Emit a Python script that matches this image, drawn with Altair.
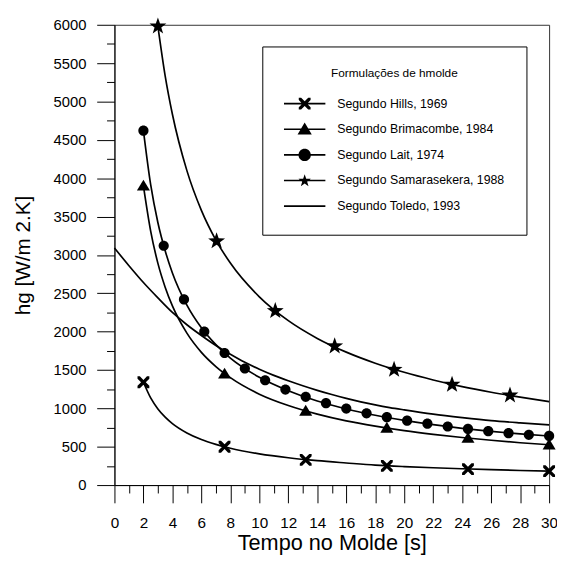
import altair as alt
import pandas as pd

FONT = "Liberation Sans"

series_names = [
    "Segundo Hills, 1969",
    "Segundo Brimacombe, 1984",
    "Segundo Lait, 1974",
    "Segundo Samarasekera, 1988",
    "Segundo Toledo, 1993",
]

# ---- curves ----
hills_t = [2, 2.5, 3, 3.5, 4, 5, 6, 7, 8, 10, 12, 14, 16, 18, 20, 22, 24, 26, 28, 30]
hills_h = [1340, 1136, 993, 886, 802, 680, 594, 531, 480, 407, 356, 318, 288, 260, 241, 226, 213, 201, 190, 181]

brim_t = [2, 2.5, 3, 3.5, 4, 5, 6, 7, 8, 10, 12, 14, 16, 18, 20, 22, 24, 26, 28, 30]
brim_h = [3900, 3310, 2890, 2580, 2335, 1980, 1730, 1545, 1400, 1185, 1037, 925, 837, 768, 709, 661, 620, 584, 552, 526]

lait_t = [2, 2.5, 3, 3.5, 4, 5, 6, 7, 8, 10, 12, 14, 16, 18, 20, 22, 24, 26, 28, 30]
lait_h = [4620, 3915, 3420, 3055, 2765, 2345, 2050, 1830, 1655, 1405, 1230, 1095, 992, 910, 843, 787, 740, 700, 667, 640]

sama_t = [3, 3.5, 4, 5, 6, 7, 8, 10, 12, 14, 16, 18, 20, 22, 24, 26, 28, 30]
sama_h = [5980, 5335, 4834, 4099, 3581, 3194, 2894, 2454, 2143, 1912, 1733, 1589, 1470, 1370, 1283, 1210, 1146, 1087]

tol_t = [0, 1, 2, 3, 4, 5, 6, 7, 8, 9, 10, 11, 12, 13, 14, 15, 16, 17, 18, 19, 20, 22, 24, 26, 28, 30]
tol_h = [3090, 2860, 2640, 2440, 2250, 2090, 1950, 1820, 1705, 1600, 1510, 1430, 1360, 1295, 1235, 1180,
         1130, 1085, 1045, 1010, 980, 925, 880, 840, 810, 784]

# ---- markers ----
hills_mt = [2, 7.6, 13.2, 18.8, 24.4, 30]
hills_mh = [1340, 500, 328, 250, 207, 181]

brim_mt = [2, 7.6, 13.2, 18.8, 24.4, 30]
brim_mh = [3900, 1450, 965, 745, 612, 526]

lait_mt = [2, 3.4, 4.8, 6.2, 7.6, 9.0, 10.4, 11.8, 13.2, 14.6, 16.0, 17.4, 18.8, 20.2, 21.6, 23.0, 24.4, 25.8, 27.2, 28.6, 30]
lait_mh = [4620, 3120, 2420, 2000, 1722, 1520, 1366, 1245, 1150, 1068, 997, 935, 885, 840, 800, 764, 732, 703, 677, 655, 641]

sama_mt = [3, 7.05, 11.1, 15.2, 19.3, 23.3, 27.3]
sama_mh = [5980, 3180, 2270, 1810, 1505, 1310, 1170]

x_values = list(range(0, 31))
y_values = list(range(0, 6001, 250))

curve_rows = []
for name, ts, hs in zip(series_names,
                        [hills_t, brim_t, lait_t, sama_t, tol_t],
                        [hills_h, brim_h, lait_h, sama_h, tol_h]):
    curve_rows += [{"serie": name, "t": t, "h": h} for t, h in zip(ts, hs)]
curves = pd.DataFrame(curve_rows)

marker_rows = []
for name, ts, hs in zip(series_names[:4],
                        [hills_mt, brim_mt, lait_mt, sama_mt],
                        [hills_mh, brim_mh, lait_mh, sama_mh]):
    marker_rows += [{"serie": name, "t": t, "h": h} for t, h in zip(ts, hs)]
markers = pd.DataFrame(marker_rows)

# symbol shapes (unit coordinates)
X_PATH = ("M-1,-1L-0.6,-1L0,-0.4L0.6,-1L1,-1L1,-0.6L0.4,0L1,0.6L1,1L0.6,1L0,0.4"
          "L-0.6,1L-1,1L-1,0.6L-0.4,0L-1,-0.6Z")
TRI_PATH = "M0,-1.05L1.1,0.8L-1.1,0.8Z"
CIRC_PATH = "M0.86,0A0.86,0.86,0,1,1,-0.86,0A0.86,0.86,0,1,1,0.86,0Z"
STAR_PATH = ("M0,-1.5L0.353,-0.485L1.427,-0.464L0.571,0.185L0.882,1.214L0,0.6"
             "L-0.882,1.214L-0.571,0.185L-1.427,-0.464L-0.353,-0.485Z")

LINE = "M-1,-0.065L2.5,-0.065L2.5,0.065L-1,0.065Z"
LEG_X = ("M0.25,-0.5L0.45,-0.5L0.75,-0.2L1.05,-0.5L1.25,-0.5L1.25,-0.3L0.95,0L1.25,0.3L1.25,0.5"
         "L1.05,0.5L0.75,0.2L0.45,0.5L0.25,0.5L0.25,0.3L0.55,0L0.25,-0.3Z")
LEG_TRI = "M0.75,-0.58L1.35,0.45L0.15,0.45Z"
LEG_CIRC = "M1.27,0A0.52,0.52,0,1,1,0.23,0A0.52,0.52,0,1,1,1.27,0Z"
LEG_STAR = ("M0.75,-0.52L0.879,-0.148L1.273,-0.14L0.959,0.098L1.073,0.475L0.75,0.25"
            "L0.427,0.475L0.541,0.098L0.227,-0.14L0.621,-0.148Z")
legend_shapes = [LINE + LEG_X, LINE + LEG_TRI, LINE + LEG_CIRC, LINE + LEG_STAR, LINE]

x_scale = alt.Scale(domain=[0, 30], nice=False, zero=False)
y_scale = alt.Scale(domain=[0, 6000], nice=False)

x_axis = alt.Axis(
    values=x_values, title="Tempo no Molde [s]",
    labelExpr="datum.value % 2 === 0 ? datum.label : ''",
    tickSize={"condition": {"test": "datum.value % 2 === 0", "value": 18}, "value": 8},
    labelFontSize=15.5, labelPadding=13, labelFlush=False, labelOverlap=False,
    titleFontSize=22, titleFontWeight="normal", titlePadding=2,
)
y_axis = alt.Axis(
    values=y_values, title="hg [W/m 2.K]", format="d",
    labelExpr="datum.value % 500 === 0 ? datum.label : ''",
    tickSize={"condition": {"test": "datum.value % 500 === 0", "value": 18}, "value": 8},
    labelFontSize=15, labelPadding=11, labelFlush=False, labelOverlap=False,
    titleFontSize=21, titleFontWeight="normal", titlePadding=20,
)

X = alt.X("t:Q", scale=x_scale, axis=x_axis)
Y = alt.Y("h:Q", scale=y_scale, axis=y_axis)

lines = alt.Chart(curves).mark_line(color="black", strokeWidth=1.7, interpolate="monotone").encode(
    x=X, y=Y, detail="serie:N"
)

points = alt.Chart(markers).mark_point(filled=True, size=144, color="black", opacity=1).encode(
    x=X, y=Y,
    shape=alt.Shape("serie:N", scale=alt.Scale(domain=series_names[:4],
                                                range=[X_PATH, TRI_PATH, CIRC_PATH, STAR_PATH]),
                    legend=None),
)

legend_layer = alt.Chart(markers).mark_point(filled=True, color="black", opacity=0).encode(
    x=X, y=Y,
    shape=alt.Shape(
        "serie:N",
        scale=alt.Scale(domain=series_names, range=legend_shapes),
        legend=alt.Legend(
            orient="none", legendX=150, legendY=22,
            title="Formulações de hmolde", titleFontSize=12, titleFontWeight="normal",
            titleAnchor="middle", titleAlign="center", titlePadding=12, titleFont=FONT,
            titleColor="black",
            labelFontSize=12.5, labelFont=FONT, labelColor="black", labelOffset=30, labelLimit=300,
            rowPadding=7, padding=22, strokeColor="black", fillColor="white",
            symbolSize=576, symbolStrokeWidth=0, symbolFillColor="black",
            symbolStrokeColor="black", symbolOpacity=1,
        ),
    ),
)

chart = (
    alt.layer(lines, points, legend_layer)
    .resolve_scale(shape="independent")
    .properties(
        width=441, height=467,
        autosize=alt.AutoSizeParams(type="none"),
        padding={"left": 108, "top": 13, "right": 8, "bottom": 73},
    )
    .configure_view(stroke="#333333", strokeWidth=1)
    .configure_axis(
        domainColor="black", tickColor="black", labelColor="black", titleColor="black",
        labelFont=FONT, titleFont=FONT, grid=False, domainWidth=1, tickWidth=1,
    )
)

chart.save("out.html", embed_options={"renderer": "svg", "actions": False})
